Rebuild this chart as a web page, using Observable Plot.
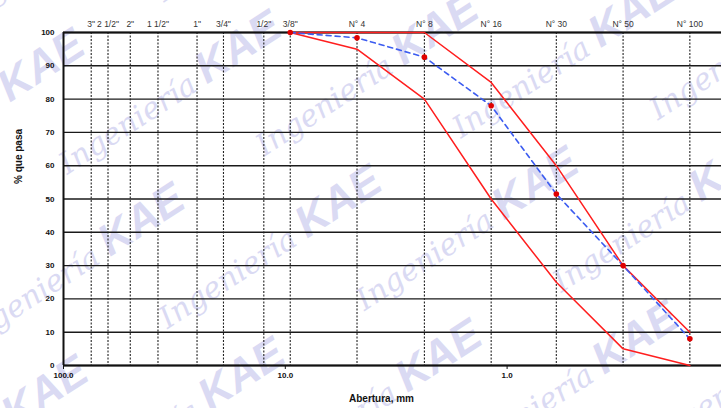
<!DOCTYPE html>
<html>
<head>
<meta charset="utf-8">
<script src="https://cdn.jsdelivr.net/npm/d3@7"></script>
<script src="https://cdn.jsdelivr.net/npm/@observablehq/plot@0.6"></script>
<style>
  body { margin: 0; background: white; }
  #wrap { position: relative; width: 721px; height: 408px; overflow: hidden; }
</style>
</head>
<body>
<div id="wrap"></div>
<script>
// Sieves (labels and openings in mm)
const sieveLabels = ['3"', '2 1/2"', '2"', '1 1/2"', '1"', '3/4"', '1/2"', '3/8"', 'N° 4', 'N° 8', 'N° 16', 'N° 30', 'N° 50', 'N° 100'];
const sieveSizes = [75, 63, 50, 37.5, 25, 19, 12.5, 9.5, 4.75, 2.36, 1.18, 0.6, 0.3, 0.15];

// Curve sieves
const curveSizes = [9.5, 4.75, 2.36, 1.18, 0.6, 0.3, 0.15];
const lowerLimit = [100, 95, 80, 50, 25, 5, 0];
const upperLimit = [100, 100, 100, 85, 60, 30, 10];
const sample = [100, 98.4, 92.6, 78, 51.5, 30, 8];

// Axis ticks
const yTicks = [0, 10, 20, 30, 40, 50, 60, 70, 80, 90, 100];
const xTicks = [100, 10, 1];
const xTickLabels = ["100.0", "10.0", "1.0"];

// Watermark words
const watermarkWords = ["Ingeniería", "KAE"];

const sieveTicks = sieveSizes.map((s, i) => ({size: s, label: sieveLabels[i]}));
const xTickRows = xTicks.map((s, i) => ({size: s, label: xTickLabels[i]}));

const lower = curveSizes.map((s, i) => ({size: s, pct: lowerLimit[i]}));
const upper = curveSizes.map((s, i) => ({size: s, pct: upperLimit[i]}));
const samp = curveSizes.map((s, i) => ({size: s, pct: sample[i]}));

// decorative watermark drawn behind the chart (render function mark)
function watermark(index, scales, values, dims) {
  const w = dims.width, h = dims.height;
  const g = d3.create("svg:g")
    .attr("fill", "#dadaf3")
    .attr("transform", `rotate(-33 ${w / 2} ${h / 2})`);
  for (let r = -3; r <= 6; r++) {
    for (let k = -1; k <= 3; k++) {
      const x = k * 350 + (r % 2 ? 175 : 0) - 90;
      const y = r * 92 + 20;
      const t = g.append("text").attr("x", x).attr("y", y);
      t.append("tspan")
        .attr("font-family", "DejaVu Serif").attr("font-style", "italic").attr("font-size", 30)
        .text(watermarkWords[0] + " ");
      t.append("tspan")
        .attr("font-family", "Liberation Sans").attr("font-weight", "bold").attr("font-style", "italic")
        .attr("font-size", 44)
        .text(watermarkWords[1]);
    }
  }
  return g.node();
}

const chart = Plot.plot({
  width: 721,
  height: 408,
  marginLeft: 63,
  marginRight: 0,
  marginTop: 32,
  marginBottom: 43,
  style: {background: "transparent", fontFamily: "Liberation Sans, Arial, sans-serif"},
  x: {type: "log", domain: [100, 0.108], axis: null},
  y: {type: "linear", domain: [0, 100], axis: null},
  marks: [
    watermark,
    Plot.ruleY(yTicks, {stroke: "#1a1a1a", strokeWidth: 1.4}),
    Plot.ruleX(sieveSizes, {stroke: "#222", strokeWidth: 1.1, strokeDasharray: "2,1.5"}),
    Plot.ruleX([100], {stroke: "#111", strokeWidth: 2}),
    Plot.ruleY([0, 100], {stroke: "#111", strokeWidth: 2}),
    // y tick labels
    Plot.text(yTicks, {x: 100, y: d => d, text: d => String(d), dx: -9, textAnchor: "end",
      fontSize: 8, fontWeight: "bold", fill: "#111"}),
    // top sieve labels
    Plot.text(sieveTicks, {x: "size", text: "label", frameAnchor: "top", dy: -12,
      fontSize: 8.5, fill: "#333"}),
    // bottom decade ticks and labels
    Plot.ruleX(xTickRows, {x: "size", y1: 0, y2: 0, insetBottom: -4, stroke: "#111", strokeWidth: 1}),
    Plot.text(xTickRows, {x: "size", text: "label", frameAnchor: "bottom", dy: 12,
      fontSize: 8, fontWeight: "bold", fill: "#111"}),
    // axis titles
    Plot.text(["% que pasa"], {frameAnchor: "left", rotate: -90, dx: -45, dy: -15,
      fontSize: 10, fontWeight: "bold", fill: "#111"}),
    Plot.text(["Abertura, mm"], {frameAnchor: "bottom", dx: -11, dy: 36,
      fontSize: 10, fontWeight: "bold", fill: "#111"}),
    // curves
    Plot.line(upper, {x: "size", y: "pct", stroke: "#ff1e1e", strokeWidth: 1.5}),
    Plot.line(lower, {x: "size", y: "pct", stroke: "#ff1e1e", strokeWidth: 1.5}),
    Plot.line(samp, {x: "size", y: "pct", stroke: "#3c5cf0", strokeWidth: 1.6, strokeDasharray: "5,4"}),
    Plot.dot(samp, {x: "size", y: "pct", r: 2.8, fill: "#e00000", stroke: "none"})
  ]
});
document.getElementById("wrap").appendChild(chart);
</script>
</body>
</html>
